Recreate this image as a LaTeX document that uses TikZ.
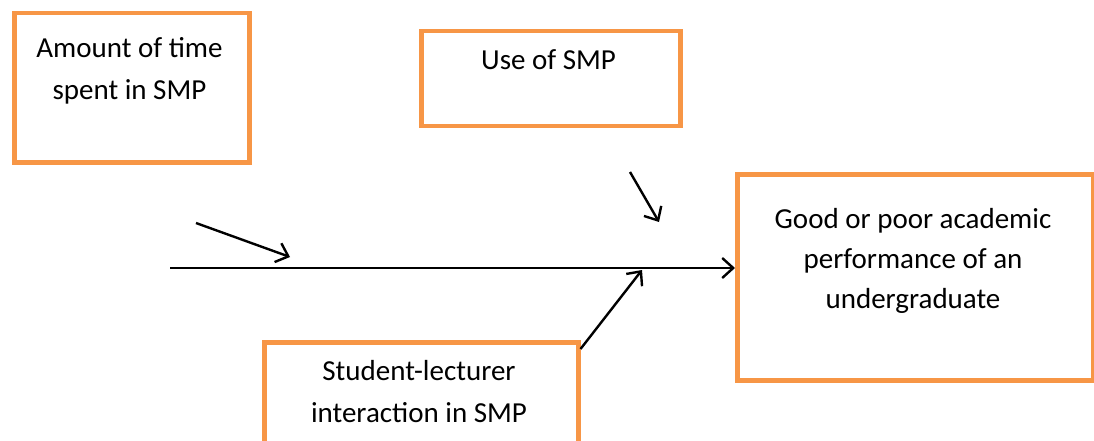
\documentclass[tikz,border=0pt]{standalone}
\usepackage{fontspec}
\setmainfont{Carlito}
\usetikzlibrary{arrows.meta}
\definecolor{boxorange}{HTML}{F79646}
\begin{document}
\begin{tikzpicture}[x=1pt,y=-1pt,
  box/.style={draw=boxorange,line width=4.5pt,inner sep=0pt,anchor=north west},
  lab/.style={font=\fontsize{29}{42}\selectfont,align=center,inner sep=0pt,anchor=base},
  arr/.style={line width=2.4pt,-{Straight Barb[length=11pt,width=20pt,line width=2.4pt]}}]
\useasboundingbox (0,0) rectangle (1094,441);
\node[box,minimum width=235pt,minimum height=149pt] (b1) at (12,11) {};
\node[box,minimum width=259pt,minimum height=95pt] (b2) at (419,29) {};
\node[box,minimum width=356pt,minimum height=206pt] (b3) at (735,172) {};
\node[box,minimum width=314pt,minimum height=120pt] (b4) at (262,340) {};
\node[lab,font=\fontsize{29}{43}\selectfont] (t1) at (129.5,100) {Amount of time\\spent in SMP};
\node[lab] (t2) at (548.5,70) {Use of SMP};
\node[lab,font=\fontsize{29}{40}\selectfont] (t3) at (913,308) {Good or poor academic\\performance of an\\undergraduate};
\node[lab] (t4) at (419,422) {Student-lecturer\\interaction in SMP};
\coordinate (m0) at (170,268);
\coordinate (m1) at (b3.west |- m0);
\coordinate (a0) at (196,223);
\coordinate (a1) at (290,257);
\coordinate (c0) at (630,172);
\coordinate (c1) at (659,222);
\coordinate (d0) at ([yshift=-9pt]b4.north east);
\coordinate (d1) at (642,270);
\draw[arr] (m0) -- (m1);
\draw[arr] (a0) -- (a1);
\draw[arr] (c0) -- (c1);
\draw[arr] (d0) -- (d1);
\end{tikzpicture}
\end{document}
